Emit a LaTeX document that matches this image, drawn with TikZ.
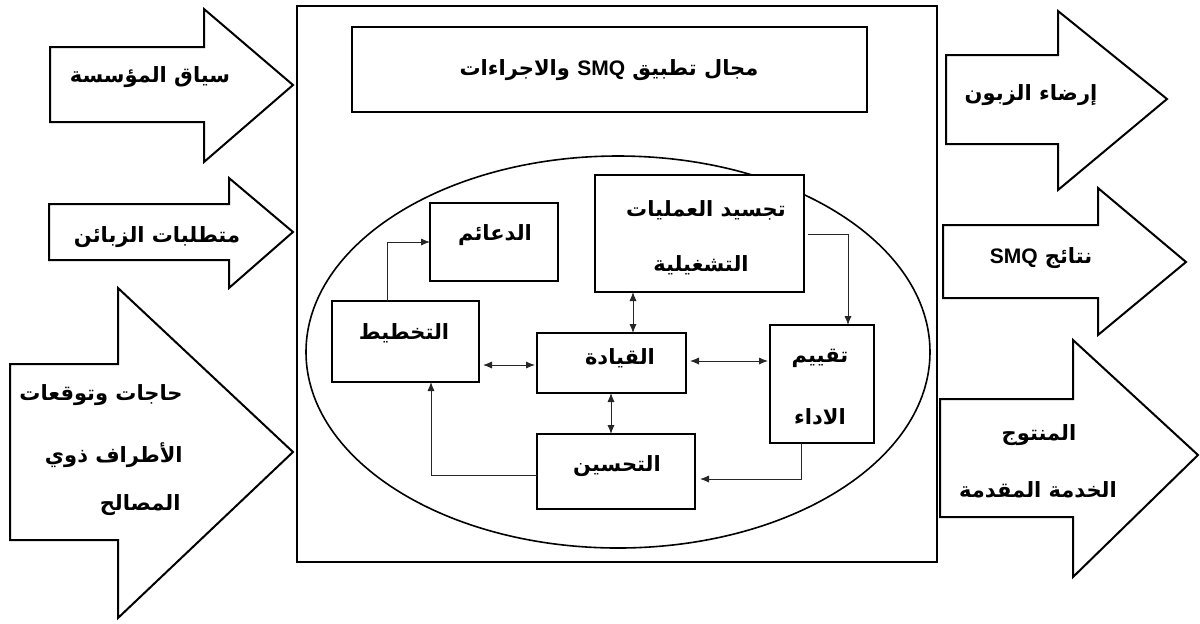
\documentclass[tikz,border=0pt]{standalone}
\usepackage{fontspec}
\usetikzlibrary{arrows.meta}
\TeXXeTstate=1
\newfontfamily\arabicfont[Script=Arabic]{DejaVu Sans}
\newfontfamily\latinbold{Liberation Sans}
\newcommand\ar[1]{{\arabicfont\bfseries\beginR #1\endR}}
\newcommand\smq{\beginL{\latinbold\bfseries SMQ}\endL{}}
\begin{document}
\begin{tikzpicture}[x=0.5pt,y=-0.5pt,
  bigarrow/.style={draw=black,line width=1pt,fill=white,line join=miter},
  frame/.style={draw=black,line width=1pt},
  box/.style={draw=black,line width=1pt,inner sep=0pt,outer sep=0pt,fill=white},
  txt/.style={inner sep=0pt,font=\fontsize{10.5}{12}\selectfont},
  con/.style={draw=black!85,line width=0.5pt},
  tip/.style={-{Latex[length=4.5pt,width=3.6pt]}},
  dtip/.style={{Latex[length=4.5pt,width=3.6pt]}-{Latex[length=4.5pt,width=3.6pt]}}]
\useasboundingbox (0,0) rectangle (1200,623);
\fill[white] (0,0) rectangle (1200,623);
% left input arrows
\draw[bigarrow] (50,47)--(204,47)--(204,9)--(293,85)--(204,162)--(204,122)--(50,122)--cycle;
\draw[bigarrow] (49,204)--(229,204)--(229,178)--(293,232)--(229,288)--(229,260)--(49,260)--cycle;
\draw[bigarrow] (10,364)--(118,364)--(118,288)--(293,452)--(118,618)--(118,540)--(10,540)--cycle;
% right output arrows
\draw[bigarrow] (946,55)--(1058,55)--(1058,11)--(1167,99)--(1058,190)--(1058,144)--(946,144)--cycle;
\draw[bigarrow] (943,225)--(1098,225)--(1098,188)--(1186,262)--(1098,335)--(1098,298)--(943,298)--cycle;
\draw[bigarrow] (940,399)--(1073,399)--(1073,340)--(1198,455)--(1073,577)--(1073,517)--(940,517)--cycle;
% texts of arrows
\node[txt] (t1) at (150,77) {\ar{سياق المؤسسة}};
\node[txt] (t2) at (157,237) {\ar{متطلبات الزبائن}};
\node[txt,anchor=east] (t3a) at (183,395) {\ar{حاجات وتوقعات}};
\node[txt,anchor=east] (t3b) at (183,455) {\ar{الأطراف ذوي}};
\node[txt,anchor=east] (t3c) at (181,505) {\ar{المصالح}};
\node[txt] (r1) at (1031,95) {\ar{إرضاء الزبون}};
\node[txt] (r2) at (1041,258) {\ar{نتائج \smq}};
\node[txt] (r3a) at (1039,435) {\ar{المنتوج}};
\node[txt] (r3b) at (1038,490) {\ar{الخدمة المقدمة}};
% main frame
\draw[frame] (297,6) rectangle (937,562);
\draw[frame] (352,27) rectangle (867,112);
\node[txt] (title) at (609,70) {\ar{مجال تطبيق \smq{} والاجراءات}};
\draw[line width=0.8pt] (618,352) ellipse [x radius=156pt, y radius=98pt];
% boxes
\node[box,minimum width=64pt,minimum height=39pt] (dae) at (494,242) {};
\node[box,minimum width=73.5pt,minimum height=40.5pt] (plan) at (405.5,341.5) {};
\node[box,minimum width=74.5pt,minimum height=30pt] (lead) at (611.5,363) {};
\node[box,minimum width=104.5pt,minimum height=58.5pt] (ops) at (699.5,233.5) {};
\node[box,minimum width=52pt,minimum height=59pt] (eval) at (822,384) {};
\node[box,minimum width=79pt,minimum height=37.5pt] (impr) at (616,471.5) {};
\node[txt] (daet) at (495,235) {\ar{الدعائم}};
\node[txt] (plant) at (404,333) {\ar{التخطيط}};
\node[txt] (leadt) at (620,358) {\ar{القيادة}};
\node[txt] (opst1) at (706,210) {\ar{تجسيد العمليات}};
\node[txt] (opst2) at (701,265) {\ar{التشغيلية}};
\node[txt] (evalt1) at (820,358) {\ar{تقييم}};
\node[txt] (evalt2) at (820,417) {\ar{الاداء}};
\node[txt] (imprt) at (617,466) {\ar{التحسين}};
% connectors
\draw[con,tip] (plan.north -| 387,0) |- (dae.west);
\draw[con,dtip,shorten <=2pt,shorten >=1pt] (plan.east |- 0,365) -- (lead.west |- 0,365);
\draw[con,dtip] (ops.south -| 633,0) -- (lead.north -| 633,0);
\draw[con,dtip,shorten <=2pt,shorten >=1pt] (lead.east |- 0,361) -- (eval.west |- 0,361);
\draw[con,tip,shorten <=2pt] (ops.east |- 0,234) -| (eval.north -| 848,0);
\draw[con,dtip] (lead.south -| 611,0) -- (impr.north -| 611,0);
\draw[con,tip,shorten >=2.5pt] (eval.south -| 801,0) |- (impr.east |- 0,479);
\draw[con,tip] (impr.west |- 0,475) -| (plan.south -| 431,0);
\end{tikzpicture}
\end{document}
